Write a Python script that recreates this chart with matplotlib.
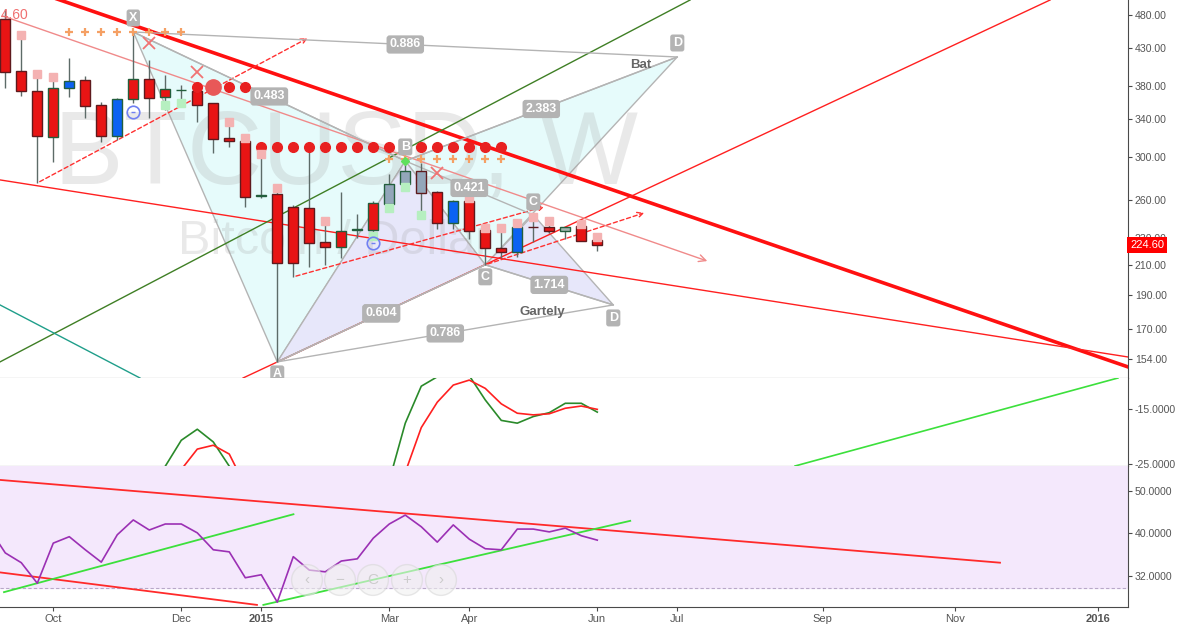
import numpy as np
import matplotlib.pyplot as plt
from matplotlib.ticker import NullLocator

plt.rcParams['font.family'] = ['Liberation Sans', 'DejaVu Sans']

# weekly BTCUSD candles, bar 0 = week of 15 Sep 2014, bar 16 = first week of 2015
opens = [473.7, 398.9, 373.4, 320.8, 377.1, 387.2, 356.4, 321.8, 363.7, 388.5,
         366.0, 374.0, 373.4, 358.7, 319.7, 316.6, 264.0, 265.7, 254.5, 253.7,
         226.7, 223.0, 235.5, 235.9, 257.1, 274.6, 286.7, 267.6, 241.4, 259.6,
         235.9, 222.3, 219.4, 238.3, 238.3, 235.1, 239.1, 228.2]
highs = [490.0, 452.3, 396.3, 393.7, 416.5, 392.4, 359.9, 365.0, 453.8, 413.7,
         393.7, 380.8, 379.6, 358.7, 337.0, 321.0, 309.3, 272.3, 256.2, 310.4,
         245.2, 267.6, 248.6, 259.6, 283.8, 297.3, 294.4, 268.4, 260.5, 262.2,
         237.5, 238.3, 239.1, 245.2, 244.4, 238.5, 241.4, 230.5]
lows = [377.1, 367.2, 275.5, 295.3, 366.0, 341.5, 315.5, 317.6, 358.7, 341.5,
        350.7, 358.9, 337.0, 304.3, 310.4, 254.5, 262.2, 152.5, 202.0, 208.8,
        210.2, 214.8, 229.7, 229.7, 254.5, 272.3, 249.5, 236.7, 236.7, 228.9,
        210.2, 214.8, 215.5, 226.7, 233.6, 228.9, 227.5, 220.1]
closes = [397.6, 373.4, 321.8, 377.1, 385.9, 355.2, 321.8, 363.7, 388.5, 365.0,
          375.9, 375.0, 356.4, 318.7, 316.6, 263.1, 264.8, 211.5, 211.5, 225.9,
          223.0, 235.1, 236.3, 257.9, 274.6, 286.7, 266.6, 241.4, 259.6, 235.1,
          222.3, 219.4, 238.3, 237.9, 235.1, 238.3, 227.5, 224.6]
# bar colouring from the indicators: r red, b blue, s slate, g grey, d green dash, m maroon dash
bar_kind = "rrrrbrrbrrrdrrrrrrrrrrdrsssrbrrrbmrgrr"
last_price = 224.6

# oscillator pane (fast green / slow red)
osc_fast = [-38, -42, -45, -40, -36, -33, -34, -36, -32, -28, -25.4, -20.7, -18.7,
            -21.0, -25.4, -31, -37, -45, -50, -48, -45, -41, -36, -32, -28.0,
            -17.6, -10.9, -9.2, -7.5, -9.0, -13.4, -17.1, -17.6, -16.4, -15.7,
            -14.0, -14.0, -15.6]
osc_slow = [-40, -43, -46, -43, -39, -36, -35, -36, -35, -32, -29, -26.0, -22.3,
            -21.6, -23.2, -29, -34, -41, -47, -49, -47, -44, -40, -35, -31,
            -26.5, -18.4, -13.8, -10.7, -9.8, -11.3, -14.1, -15.8, -16.1, -15.9,
            -14.9, -14.5, -15.1]

# RSI pane, starts one bar before the first visible candle
rsi = [41.0, 36.1, 34.3, 30.8, 38.0, 39.3, 36.7, 34.4, 39.7, 42.9, 40.7, 42.0,
       42.0, 40.1, 36.7, 36.3, 31.7, 32.2, 27.9, 35.4, 33.0, 32.7, 34.6, 35.0,
       39.0, 42.0, 44.0, 41.4, 38.2, 41.8, 38.8, 36.9, 36.7, 40.9, 40.9, 40.3,
       41.1, 39.5, 38.6]

# harmonic patterns (bar, price) for X A B C D
bat_bar = [8, 17, 25, 30, 42]
bat_price = [453.8, 152.5, 296.3, 210.2, 417.8]
bat_ratios = ['0.483', '0.604', '2.383', '0.886']
gart_bar = [17, 25, 30, 33, 38]
gart_price = [152.5, 296.3, 210.2, 247.9, 184.1]
gart_ratios = ['0.604', '0.421', '1.714', '0.786']

# drawn trend lines: (bars, prices)
thick_red = ([0, 70.5], [536.7, 149.1])
thin_red = ([-0.33, 70.17], [278.3, 155.0])
pink_ray = ([-0.33, 44.04], [480.0, 212.2])
green_fan = ([-0.33, 42.8], [152.5, 504.4])
teal_line = ([-0.33, 8.42], [184.1, 144.6])
red_rise = ([14.86, 65.3], [144.6, 504.4])
dashed_rays = [([2, 19.04], [275.5, 446.4]),
               ([-0.33, 10], [485.3, 522.7]),
               ([18, 33.86], [202.0, 255.4]),
               ([30, 40.1], [210.2, 250.3])]
osc_trend = ([49.36, 69.54], [-25.36, -9.42])
rsi_red_top = ([-0.33, 62.17], [52.9, 34.3])
rsi_red_low = ([-0.33, 15.73], [32.6, 27.5])
rsi_green_1 = ([-0.08, 18.01], [29.4, 44.2])
rsi_green_2 = ([16.13, 39.06], [27.5, 42.7])

# indicator markers
dots_a_bars, dots_a_price = [12, 14, 15], 377.8
dot_big_bar = 13
dots_b_bars, dots_b_price = list(range(16, 32)), 310.0
plus_a_bars, plus_a_price = list(range(4, 12)), 453.3
plus_b_bars, plus_b_price = list(range(24, 32)), 297.8
pink_bars = [1, 2, 3, 14, 15, 16, 17, 20, 29, 30, 31, 32, 33, 34, 36, 37]
pink_price = [449.3, 394.9, 391.5, 337.4, 319.4, 302.9, 271.2, 243.2, 262.2,
              237.2, 237.2, 241.2, 245.9, 243.2, 240.2, 230.7]
green_bars = [10, 11, 23, 24, 25, 26]
green_price = [356.5, 358.3, 231.3, 253.3, 271.9, 247.5]
cross_bars = [9, 12, 27]
cross_price = [437.1, 397.6, 284.5]
circle_bars = [8, 23]
circle_price = [348.7, 226.2]

tick_bars = [3, 11, 16, 24, 29, 37, 42, 51.1, 59.35, 68.3]
tick_text = ['Oct', 'Dec', '2015', 'Mar', 'Apr', 'Jun', 'Jul', 'Sep', 'Nov', '2016']
price_ticks = [480, 430, 380, 340, 300, 260, 230, 210, 190, 170, 154]
osc_ticks = [-15, -25]
rsi_ticks = [50, 40, 32]

W, H = 1177, 626
fig = plt.figure(figsize=(W / 100, H / 100), dpi=100)


def pane(top, bottom, **kw):
    return fig.add_axes([0, 1 - bottom / H, 1128 / W, (bottom - top) / H], **kw)


ax = pane(0, 378)
ax2 = pane(378, 466, sharex=ax)
ax3 = pane(466, 607, sharex=ax)

for a in (ax, ax2, ax3):
    a.set_facecolor('white')
    for s in ('top', 'left'):
        a.spines[s].set_visible(False)
    for s in ('right', 'bottom'):
        a.spines[s].set_color('#4a4a4a')
    a.yaxis.tick_right()
    a.tick_params(axis='y', labelsize=7.6, colors='#4a4a4a', labelcolor='#555555',
                  length=3, pad=2)
    a.tick_params(axis='x', bottom=False, labelbottom=False)

ax.set_yscale('log')
ax3.set_yscale('log')
ax.set_xlim(-0.33, 70.17)
ax.set_ylim(144.6, 504.4)
ax2.set_ylim(-25.36, -9.42)
ax3.set_ylim(27.2, 56.9)
for a, t, fmt in ((ax, price_ticks, '{:.2f}'), (ax2, osc_ticks, '{:.4f}'), (ax3, rsi_ticks, '{:.4f}')):
    a.yaxis.set_minor_locator(NullLocator())
    a.set_yticks(t)
    a.set_yticklabels([fmt.format(v) for v in t])

ax3.tick_params(axis='x', bottom=True, labelbottom=True, labelsize=8,
                colors='#4a4a4a', labelcolor='#555555', length=3, pad=2)
ax3.set_xticks(tick_bars)
ax3.set_xticklabels(tick_text)
for lab in ax3.get_xticklabels():
    if lab.get_text() in ('2015', '2016'):
        lab.set_fontweight('bold')

# ---- main pane ----
bx = np.array(bat_bar)
by = np.array(bat_price)
gx = np.array(gart_bar)
gy = np.array(gart_price)
for px, py, fc in ((bx, by, '#e6fbfb'), (gx, gy, '#e7e7fa')):
    ax.fill(px[[0, 1, 2]], py[[0, 1, 2]], fc=fc, ec='#b4b4b4', lw=1, zorder=1)
    ax.fill(px[[2, 3, 4]], py[[2, 3, 4]], fc=fc, ec='#b4b4b4', lw=1, zorder=1)

ax.text(0.307, 0.585, 'BTCUSD, W', transform=ax.transAxes, ha='center', va='center',
        fontsize=75, color='#9e9e9e', alpha=0.22, zorder=1.5)
ax.text(0.297, 0.36, 'Bitcoin / Dollar', transform=ax.transAxes, ha='center',
        va='center', fontsize=35, color='#9e9e9e', alpha=0.22, zorder=1.5)

ax.plot(*thick_red, color='#ff1010', lw=2.6, zorder=2)
ax.plot(*thin_red, color='#ff2020', lw=1, zorder=2)
ax.plot(*green_fan, color='#3f7f25', lw=1, zorder=2)
ax.plot(*teal_line, color='#1f9e8a', lw=1, zorder=2)
ax.plot(*red_rise, color='#ff2020', lw=1, zorder=2)
ax.annotate('', xy=(pink_ray[0][1], pink_ray[1][1]), xytext=(pink_ray[0][0], pink_ray[1][0]),
            arrowprops=dict(arrowstyle='->,head_length=0.5,head_width=0.25',
                            color='#f08a8a', lw=1), zorder=2)
for rx, ry in dashed_rays:
    ax.annotate('', xy=(rx[1], ry[1]), xytext=(rx[0], ry[0]),
                arrowprops=dict(arrowstyle='->,head_length=0.4,head_width=0.2',
                                color='#ff3030', lw=1, linestyle=(0, (3, 2))), zorder=2)

# ratio lines and labels
lab_box = dict(boxstyle='round,pad=0.25', fc='#b3b3b3', ec='none')
for px, py, ratios in ((bx, by, bat_ratios), (gx, gy, gart_ratios)):
    for (i, j), r in zip(((0, 2), (1, 3), (2, 4), (0, 4)), ratios):
        ax.plot(px[[i, j]], py[[i, j]], color='#b4b4b4', lw=1, zorder=2.5)
        ax.text((px[i] + px[j]) / 2, np.sqrt(py[i] * py[j]), r, ha='center', va='center',
                fontsize=9, fontweight='bold', color='white', bbox=lab_box, zorder=6)

# candles
x = np.arange(len(opens))
o, h, l, c = (np.array(v) for v in (opens, highs, lows, closes))
fills = {'r': '#e81414', 'b': '#0b62f2', 's': '#93a6ba', 'g': '#a4b6b1',
         'd': '#1e6a42', 'm': '#6e1a2c'}
edges = np.where(c >= o, '#235e3c', '#5e1a1e')
ax.vlines(x, l, h, color='#5d6b68', lw=1, zorder=3)
bot = np.minimum(o, c)
ax.bar(x, np.maximum(np.maximum(o, c) - bot, 0.4), 0.62, bot,
       color=[fills[k] for k in bar_kind], edgecolor=edges, lw=1, zorder=4)

# indicator markers
ax.plot(dots_a_bars, [dots_a_price] * len(dots_a_bars), 'o', color='#e82020', ms=7, zorder=5)
ax.plot([dot_big_bar], [dots_a_price], 'o', color='#e85858', ms=11, zorder=5)
ax.plot(dots_b_bars, [dots_b_price] * len(dots_b_bars), 'o', color='#e82020', ms=7, zorder=5)
ax.plot(plus_a_bars, [plus_a_price] * len(plus_a_bars), '+', color='#f5a064', ms=6, mew=1.6, zorder=5)
ax.plot(plus_b_bars, [plus_b_price] * len(plus_b_bars), '+', color='#f5a064', ms=6, mew=1.6, zorder=5)
ax.plot(pink_bars, pink_price, 's', color='#f4b2b2', ms=5.5, zorder=5)
ax.plot(green_bars, green_price, 's', color='#b6efc0', ms=5.5, zorder=5)
ax.plot(cross_bars, cross_price, 'x', color='#f07474', ms=9, mew=1.3, zorder=5)
ax.plot(circle_bars, circle_price, 'o', mfc='none', mec='#7080f2', ms=9, mew=1.2, zorder=5)
ax.plot(circle_bars, circle_price, '_', color='#7080f2', ms=3, zorder=5)
ax.plot([bat_bar[2]], [bat_price[2]], 'D', color='#5ee05e', ms=4, zorder=5)

# pattern letters
letter_off = [14, -12, 14, -12, 14]
for k, name in enumerate('XABCD'):
    ax.annotate(name, (bx[k], by[k]), xytext=(0, letter_off[k]), textcoords='offset pixels',
                ha='center', va='center', fontsize=9, fontweight='bold', color='white',
                bbox=dict(boxstyle='round,pad=0.2', fc='#b3b3b3', ec='none'), zorder=6)
for k, name in ((3, 'C'), (4, 'D')):
    ax.annotate(name, (gx[k], gy[k]), xytext=(0, 13 if k == 3 else -13),
                textcoords='offset pixels', ha='center', va='center', fontsize=9,
                fontweight='bold', color='white',
                bbox=dict(boxstyle='round,pad=0.2', fc='#b3b3b3', ec='none'), zorder=6)
ax.annotate('Bat', (bx[4], by[4]), xytext=(-37, -8), textcoords='offset pixels',
            ha='center', va='center', fontsize=9.5, fontweight='bold', color='#666666', zorder=6)
ax.annotate('Gartely', (gx[4], gy[4]), xytext=(-71, -7), textcoords='offset pixels',
            ha='center', va='center', fontsize=9.5, fontweight='bold', color='#666666', zorder=6)

ax.text(1.45, 480, '224.60', ha='right', va='center', fontsize=10, color='#f07070',
        clip_on=True, zorder=6)
ax.text(1.002, last_price, '224.60', transform=ax.get_yaxis_transform(), ha='left',
        va='center', fontsize=8, color='white',
        bbox=dict(boxstyle='square,pad=0.25', fc='#ff0000', ec='none'), zorder=7)

# ---- oscillator pane ----
ax2.plot(x, osc_fast, color='#2a8a2a', lw=1.2)
ax2.plot(x, osc_slow, color='#ff2020', lw=1.2)
ax2.plot(*osc_trend, color='#3ce03c', lw=1.2)

# ---- RSI pane ----
ax3.axhspan(30, 70, color='#f4e8fc', zorder=0)
ax3.axhline(30, color='#b8a8c8', lw=0.8, ls=(0, (3, 2)), zorder=1)
ax3.plot(*rsi_red_top, color='#ff2a2a', lw=1.3)
ax3.plot(*rsi_red_low, color='#ff2a2a', lw=1.3)
ax3.plot(*rsi_green_1, color='#3ce03c', lw=1.3)
ax3.plot(*rsi_green_2, color='#3ce03c', lw=1.3)
ax3.plot(np.arange(-1, len(rsi) - 1), rsi, color='#9b30b4', lw=1.2)

# chart navigation buttons
for px_, sym in zip([307, 340, 373, 407, 441], ['‹', '−', 'C', '+', '›']):
    fig.text(px_ / W, 1 - 580 / H, sym, ha='center', va='center', fontsize=11,
             color='#cccccc', bbox=dict(boxstyle='circle,pad=0.55', fc='#f0f0f0',
                                        ec='#d8d8d8', alpha=0.6))

fig.savefig('out.png', dpi=100)
